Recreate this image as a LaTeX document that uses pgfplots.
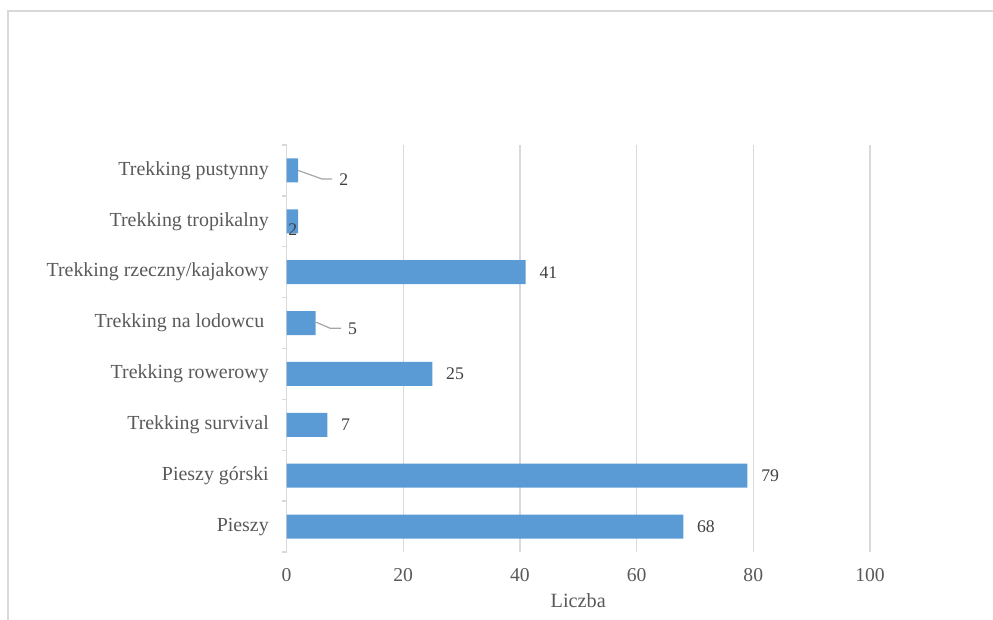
\documentclass[border=0pt]{standalone}
\usepackage{fontspec}
\setmainfont{Liberation Serif}
\usepackage{pgfplots}
\pgfplotsset{compat=1.18}
\usepackage{pgfplotstable}
\definecolor{barblue}{HTML}{5B9BD5}
\definecolor{gridgray}{HTML}{D9D9D9}
\definecolor{txtgray}{HTML}{595959}
\definecolor{lblgray}{HTML}{404040}
\definecolor{leadgray}{HTML}{A6A6A6}

\pgfplotstableread{
y x dx dy
0 68 13.6 0
1 79 13.6 0
2 7 13.6 0
3 25 13.6 0
4 5 32.3 -5.7
5 41 13.6 0
6 2 -9.9 -8.5
7 2 41.1 -9.1
}\data

\begin{document}
\begin{tikzpicture}
\useasboundingbox (0,0) rectangle (993bp,620bp);
\draw[gridgray, line width=2bp] (8.3bp,0) -- (8.3bp,608.7bp) -- (993bp,608.7bp);
\begin{axis}[
  at={(286.5bp,68bp)}, anchor=south west,
  width=583.5bp, height=407bp, scale only axis,
  xmin=0, xmax=100, ymin=-0.5, ymax=7.5,
  xtick={0,20,...,100},
  ytick={0,...,7},
  yticklabels={Pieszy, Pieszy górski, Trekking survival, Trekking rowerowy, Trekking na lodowcu\hspace*{4.5bp}, {Trekking rzeczny/kajakowy}, Trekking tropikalny, Trekking pustynny},
  minor ytick={-0.5,0.5,...,7.5},
  major tick length=0pt,
  minor tick length=5bp,
  tick align=outside,
  xtick style={draw=none},
  minor tick style={gridgray, line width=1.3bp},
  axis lines*=left,
  separate axis lines,
  x axis line style={draw=none},
  y axis line style={draw=gridgray, line width=1.3bp},
  xmajorgrids,
  grid style={gridgray, line width=1.3bp},
  /pgf/number format/assume math mode=true,
  yticklabel style={font=\fontsize{20}{22}\selectfont, text=txtgray, inner sep=0pt, xshift=-17.5bp},
  xticklabel style={font=\fontsize{19.7}{22}\selectfont, text=txtgray, inner sep=0pt, anchor=north, yshift=-16bp},
  xlabel={Liczba},
  xlabel style={at={(axis description cs:0.5,0)}, anchor=north, yshift=-41bp, inner sep=0pt, font=\fontsize{20.3}{23}\selectfont, text=txtgray},
  xbar, bar width=0.47, bar shift=0pt,
]
\addplot[fill=barblue, draw=none,
  point meta=explicit,
  visualization depends on={\thisrow{dx}\as\dx},
  visualization depends on={\thisrow{dy}\as\dy},
  nodes near coords,
  nodes near coords style={anchor=west, inner sep=0pt, xshift=\dx bp, yshift=\dy bp, font=\fontsize{17.8}{20}\selectfont, text=lblgray},
] table[x=x, y=y, meta=x] {\data};
\draw[leadgray, line width=1.2bp] (axis cs:2,7) -- ++(24bp,-8.6bp) -- ++(10bp,0bp);
\draw[leadgray, line width=1.2bp] (axis cs:5,4) ++(0.5bp,0.8bp) -- ++(14bp,-6bp) -- ++(11bp,0bp);
\end{axis}
\end{tikzpicture}
\end{document}
